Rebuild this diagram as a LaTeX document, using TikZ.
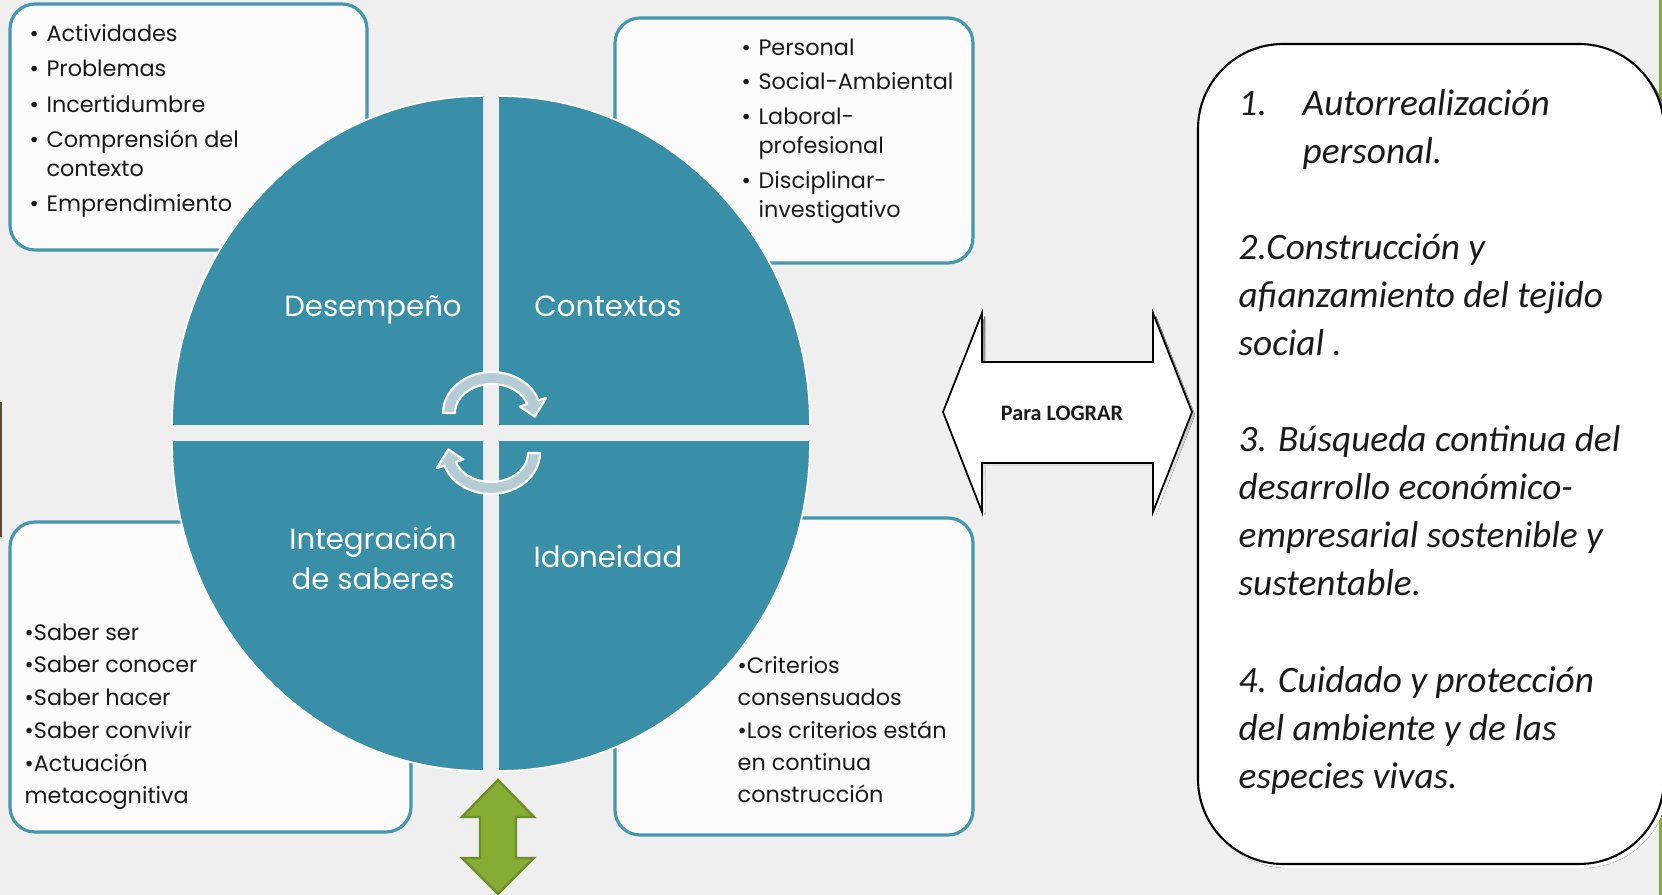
\documentclass[tikz,border=0pt]{standalone}
\usepackage{fontspec}
\setmainfont{Poppins}
\newfontfamily\goalfont{Carlito}
\usepackage{tikz}
\usetikzlibrary{calc}
\definecolor{bg}{HTML}{EFEFEF}
\definecolor{boxbg}{HTML}{FBFBFB}
\definecolor{quadTeal}{HTML}{3A8FA8}
\definecolor{tealLine}{HTML}{4597AF}
\definecolor{cycleFill}{HTML}{B5CCD5}
\definecolor{olive}{HTML}{86AC34}
\definecolor{oliveLine}{HTML}{6C8F28}
\definecolor{shade}{HTML}{707070}
\definecolor{edgeDark}{HTML}{5A4C3E}
\definecolor{ink}{HTML}{1A1A1A}
\tikzset{
  listBox/.style={draw=tealLine, line width=0.9pt, fill=boxbg, rounded corners=0.25cm},
  listTxt/.style={anchor=north west, inner sep=0pt, align=left, text=ink, font=\fontsize{6.35}{8.4}\selectfont},
  quadFill/.style={fill=quadTeal, draw=white, line width=0.5pt},
  quadLbl/.style={text=white, align=center, font=\fontsize{8.3}{11.3}\selectfont},
  cycleArrow/.style={fill=cycleFill, draw=white, line width=0.6pt, line join=round},
  bigArrow/.style={fill=white, draw=black, line width=0.5pt, line join=miter},
  greenArrow/.style={fill=olive, draw=oliveLine, line width=0.7pt},
  goalBox/.style={fill=white, draw=black, line width=0.6pt, rounded corners=0.85cm},
  goalTxt/.style={anchor=north west, inner sep=0pt, align=left, text=ink, font=\goalfont\itshape\fontsize{10.6}{13.66}\selectfont},
}
\newcommand{\bul}{\makebox[4.8pt][l]{\textbullet}}
\newcommand{\hang}{\hspace*{4.8pt}}
\newcommand{\CycleArrow}{%
  \path[cycleArrow]
    plot[domain=180:18, samples=30] ({492+49*cos(\x)},{413-41*sin(\x)})
    -- ({492+57*cos(18)},{413-49*sin(18)})
    -- ({492+43*cos(-6)},{413-35*sin(-6)})
    -- ({492+29*cos(18)},{413-21*sin(18)})
    -- plot[domain=18:180, samples=30] ({492+37*cos(\x)},{413-29*sin(\x)})
    -- cycle;
}

\begin{document}
\begin{tikzpicture}[x=0.01cm, y=-0.01cm]
  \useasboundingbox (0,0) rectangle (1662,895);
  \clip (0,0) rectangle (1662,895);
  \fill[bg] (0,0) rectangle (1662,895);
  \fill[edgeDark] (0,402) rectangle (2,537);
  \fill[olive] (1659,0) rectangle (1662,895);

  % boxes behind the circle
  \draw[listBox] (10,4) rectangle (367,250);
  \draw[listBox] (615,18) rectangle (973,263);
  \draw[listBox] (10,522) rectangle (411,832);
  \draw[listBox] (615,518) rectangle (973,835);

  \node[listTxt] (listDes) at (29,24) {\bul Actividades\\[1.6pt]\bul Problemas\\[1.6pt]\bul Incertidumbre\\[1.6pt]\bul Comprensión del\\\hang contexto\\[1.6pt]\bul Emprendimiento};
  \node[listTxt] (listCon) at (741,38) {\bul Personal\\[1.4pt]\bul Social-Ambiental\\[1.4pt]\bul Laboral-\\\hang profesional\\[1.4pt]\bul Disciplinar-\\\hang investigativo};
  \node[listTxt, font=\fontsize{6.35}{9.3}\selectfont] (listInt) at (24,623) {\textbullet Saber ser\\\textbullet Saber conocer\\\textbullet Saber hacer\\\textbullet Saber convivir\\\textbullet Actuación\\metacognitiva};
  \node[listTxt, font=\fontsize{6.35}{9.15}\selectfont] (listIdo) at (737,656) {\textbullet Criterios\\consensuados\\\textbullet Los criterios están\\en continua\\construcción};

  % the four quarters
  \begin{scope}
    \clip (168,93) rectangle (483,425);
    \path[quadFill] (483,425) ellipse (311 and 329);
  \end{scope}
  \begin{scope}
    \clip (499,93) rectangle (815,425);
    \path[quadFill] (499,425) ellipse (311 and 329);
  \end{scope}
  \begin{scope}
    \clip (168,442) rectangle (483,776);
    \path[quadFill] (483,442) ellipse (311 and 329);
  \end{scope}
  \begin{scope}
    \clip (499,442) rectangle (815,776);
    \path[quadFill] (499,442) ellipse (311 and 329);
  \end{scope}

  \node[quadLbl, anchor=base] (desempeno) at (373,317) {Desempeño};
  \node[quadLbl, anchor=base] (contextos) at (608,317) {Contextos};
  \node[quadLbl] (integracion) at (373,558) {Integración\\de saberes};
  \node[quadLbl, anchor=base] (idoneidad) at (608,568) {Idoneidad};

  \CycleArrow
  \begin{scope}[rotate around={180:(491.5,433)}]
    \CycleArrow
  \end{scope}

  % para lograr
  \fill[shade] ($(943,412)+(3,3)$) -- ++(39,-99) -- ++(0,49) -- ++(171,0) -- ++(0,-49) -- ++(39,99)
    -- ++(-39,100) -- ++(0,-49) -- ++(-171,0) -- ++(0,49) -- cycle;
  \draw[bigArrow] (943,412) -- ++(39,-99) -- ++(0,49) -- ++(171,0) -- ++(0,-49) -- ++(39,99)
    -- ++(-39,100) -- ++(0,-49) -- ++(-171,0) -- ++(0,49) -- cycle;
  \node[text=ink, font=\goalfont\bfseries\fontsize{6.3}{7.5}\selectfont] (paraLograr) at (1062,413) {Para LOGRAR};

  \draw[greenArrow] (498,780) -- (534,817) -- (516,817) -- (516,858) -- (534,858) -- (498,894)
    -- (462,858) -- (480,858) -- (480,817) -- (462,817) -- cycle;

  % goals
  \fill[shade, rounded corners=0.85cm] (1202,48) rectangle (1668,868);
  \draw[goalBox] (1198,44) rectangle (1664,864);
  \node[goalTxt] (goals) at (1238,89) {\makebox[18.2pt][l]{1.}Autorrealización\\\hspace*{18.2pt}personal.\\[13.66pt]2.Construcción y\\afianzamiento del tejido\\social .\\[13.66pt]3. Búsqueda continua del\\desarrollo económico-\\empresarial sostenible y\\sustentable.\\[13.66pt]4. Cuidado y protección\\del ambiente y de las\\especies vivas.};
\end{tikzpicture}
\end{document}
